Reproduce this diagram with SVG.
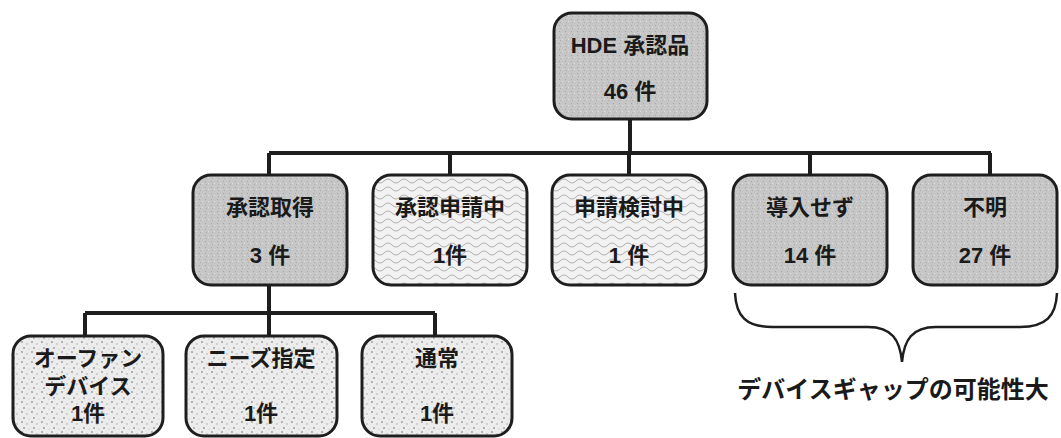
<svg xmlns="http://www.w3.org/2000/svg" width="1061" height="438" viewBox="0 0 1061 438">
<style>
.box{stroke:#1e1e1e;stroke-width:3}
.g{fill:url(#grain)}
.w{fill:url(#wave)}
.s{fill:url(#speck)}
.t{font-family:"Liberation Sans","Noto Sans CJK JP",sans-serif;font-weight:bold;font-size:22px;fill:#1a1a1a;text-anchor:middle;dominant-baseline:central}
.line{stroke:#1e1e1e;stroke-width:4;fill:none}
</style>
<defs>
<pattern id="grain" width="6" height="6" patternUnits="userSpaceOnUse">
<rect width="6" height="6" fill="#c6c6c6"/>
<rect x="1" y="1" width="1" height="1" fill="#a5a5a5"/>
<rect x="4" y="3" width="1" height="1" fill="#e0e0e0"/>
<rect x="2" y="4" width="1" height="1" fill="#aeaeae"/>
</pattern>
<pattern id="wave" width="16" height="8" patternUnits="userSpaceOnUse">
<rect width="16" height="8" fill="#f2f2f2"/>
<path d="M0 5 Q4 1 8 5 T16 5" fill="none" stroke="#a0a0a0" stroke-width="0.8"/>
</pattern>
<pattern id="speck" width="10" height="10" patternUnits="userSpaceOnUse">
<rect width="10" height="10" fill="#ececec"/>
<circle cx="2" cy="2" r="0.9" fill="#999"/>
<circle cx="7" cy="4" r="0.8" fill="#aaa"/>
<circle cx="4" cy="8" r="0.9" fill="#999"/>
<circle cx="9" cy="9" r="0.6" fill="#bbb"/>
</pattern>
</defs>
<rect width="1061" height="438" fill="#ffffff"/>
<g id="connectors">
<path class="line" d="M630 119 V153 M269 153 H991 M269 153 V176 M450 153 V176 M629 153 V176 M810 153 V176 M990 153 V176"/>
<path class="line" d="M269 285 V336 M85 313 H435 M85 313 V336 M435 313 V336"/>
<path d="M735 293 C736 316 746 327 772 327 H868 C892 327 900 340 902 362 C904 340 912 327 936 327 H1020 C1046 327 1056 316 1057 293" fill="none" stroke="#1e1e1e" stroke-width="2.5"/>
</g>
<g id="root">
<rect class="box g" x="554" y="13" width="153" height="106" rx="18"/>
<text class="t" x="630" y="45">HDE 承認品</text>
<text class="t" x="630" y="91">46 件</text>
</g>
<g id="n-shounin">
<rect class="box g" x="193" y="175" width="154" height="110" rx="18"/>
<text class="t" x="270" y="207">承認取得</text>
<text class="t" x="270" y="255">3 件</text>
</g>
<g id="n-shinseichu">
<rect class="box w" x="373" y="175" width="154" height="110" rx="18"/>
<text class="t" x="450" y="207">承認申請中</text>
<text class="t" x="450" y="255">1件</text>
</g>
<g id="n-kentouchu">
<rect class="box w" x="552" y="175" width="154" height="110" rx="18"/>
<text class="t" x="629" y="207">申請検討中</text>
<text class="t" x="629" y="255">1 件</text>
</g>
<g id="n-dounyu">
<rect class="box g" x="733" y="175" width="154" height="110" rx="18"/>
<text class="t" x="810" y="207">導入せず</text>
<text class="t" x="810" y="255">14 件</text>
</g>
<g id="n-fumei">
<rect class="box g" x="913" y="175" width="144" height="110" rx="18"/>
<text class="t" x="985" y="207">不明</text>
<text class="t" x="985" y="255">27 件</text>
</g>
<g id="n-orphan">
<rect class="box s" x="13" y="336" width="150" height="100" rx="18"/>
<text class="t" x="88" y="358">オーファン</text>
<text class="t" x="88" y="386">デバイス</text>
<text class="t" x="88" y="413">1件</text>
</g>
<g id="n-needs">
<rect class="box s" x="186" y="336" width="151" height="100" rx="18"/>
<text class="t" x="261" y="358">ニーズ指定</text>
<text class="t" x="261" y="413">1件</text>
</g>
<g id="n-tsujo">
<rect class="box s" x="362" y="336" width="150" height="100" rx="18"/>
<text class="t" x="437" y="358">通常</text>
<text class="t" x="437" y="413">1件</text>
</g>
<g id="label">
<text class="t" x="893" y="389" style="font-size:24px">デバイスギャップの可能性大</text>
</g>
</svg>
